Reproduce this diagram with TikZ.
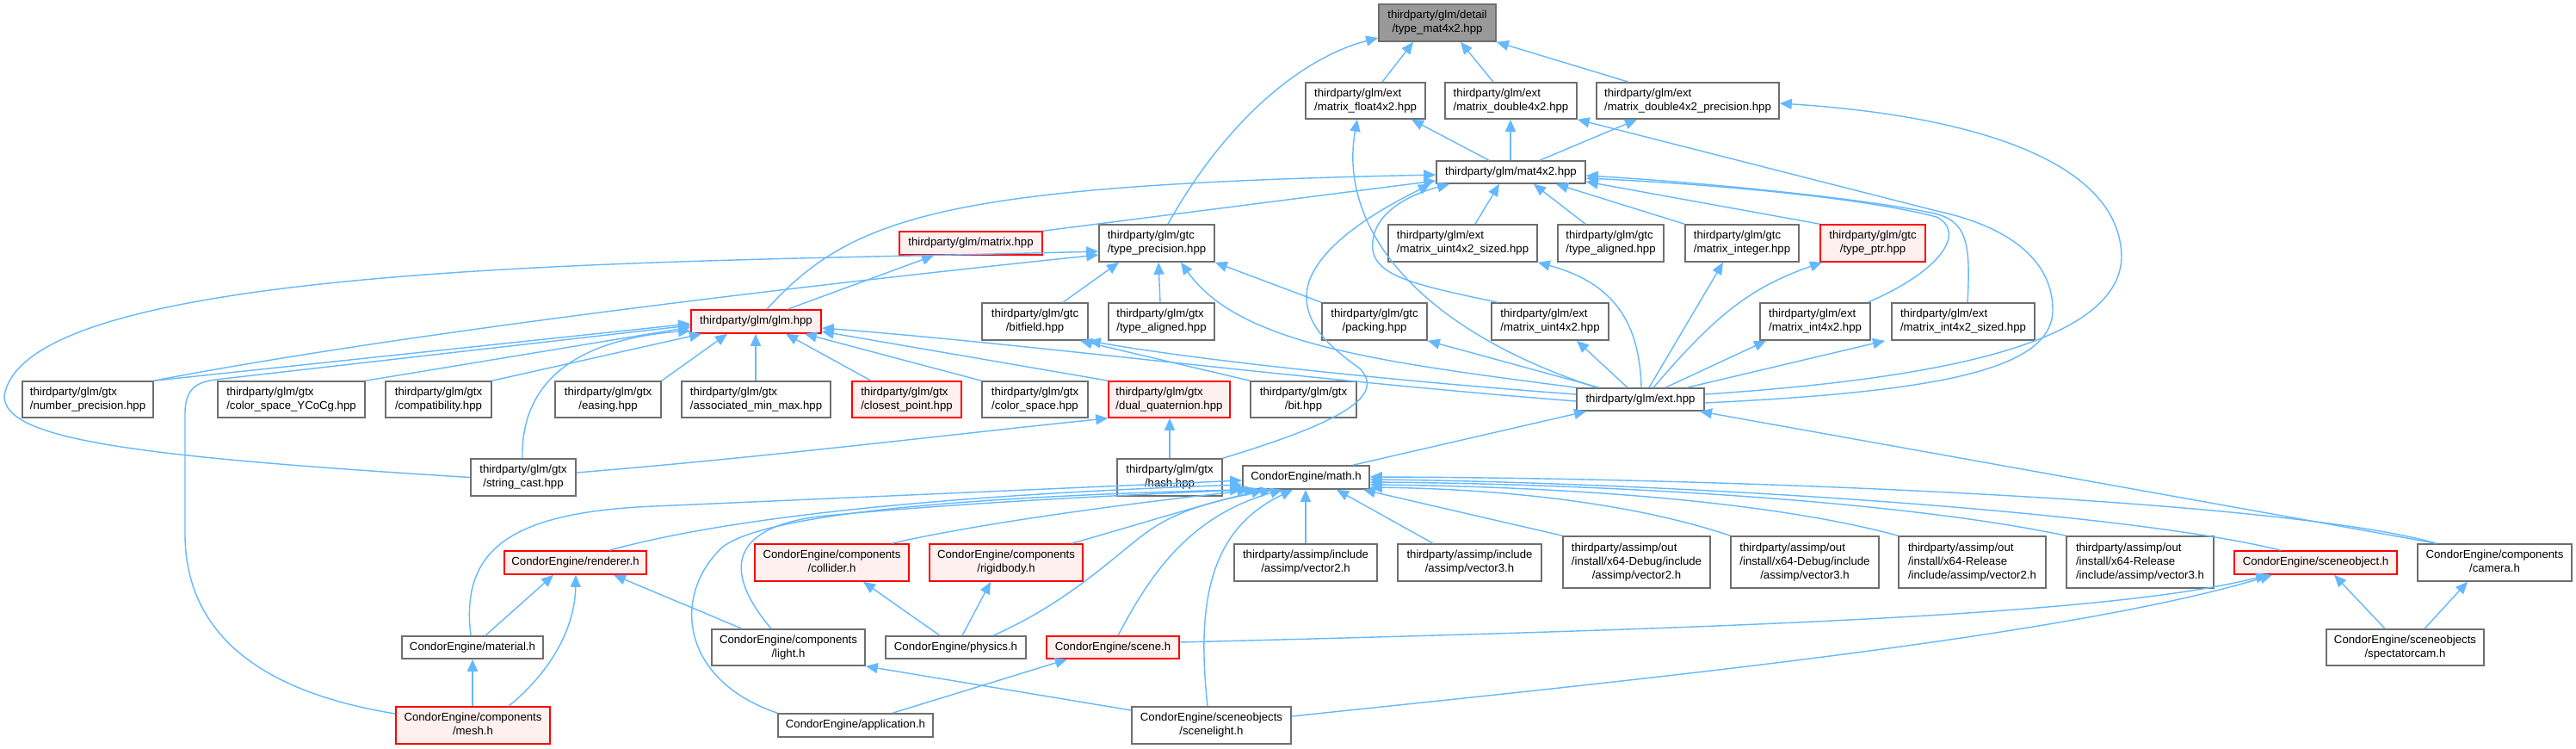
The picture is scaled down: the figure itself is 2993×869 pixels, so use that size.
\documentclass[tikz,border=0pt]{standalone}
\usepackage{fontspec}
\setmainfont{Liberation Sans}
\usetikzlibrary{arrows.meta}
\definecolor{edgec}{HTML}{63B8FF}
\definecolor{redfill}{HTML}{FFF0F0}
\definecolor{rootfill}{HTML}{999999}
\definecolor{bordc}{HTML}{6E6E6E}
\definecolor{redb}{HTML}{FF0000}
\newcommand\fsz{\fontsize{6.6}{8}\selectfont}
\newcommand\twoln[2]{\begin{tabular}{@{}l@{}}#1\\\multicolumn{1}{@{}c@{}}{#2}\end{tabular}}
\newcommand\threeln[3]{\begin{tabular}{@{}l@{}}#1\\#2\\\multicolumn{1}{@{}c@{}}{#3}\end{tabular}}
\begin{document}
\begin{tikzpicture}[x=0.5pt,y=-0.5pt,
  nbox/.style={draw=bordc, fill=white, line width=0.8pt, inner sep=0pt, font=\fsz, align=center},
  rbox/.style={nbox, draw=redb, fill=redfill},
  gbox/.style={nbox, fill=rootfill},
  lnk/.style={draw=edgec, line width=0.7pt, -{Triangle[length=7pt,width=6pt]}},
  ]
\fill[white] (0,0) rectangle (2993,869);
\useasboundingbox (0,0) rectangle (2993,869);
% ---------- nodes ----------
\node[gbox,minimum width=68pt,minimum height=21.5pt] (root) at (1670,26.5) {\twoln{thirdparty/glm/detail}{/type\_mat4x2.hpp}};
\node[nbox,minimum width=69.5pt,minimum height=21pt] (fl42) at (1586.5,117) {\twoln{thirdparty/glm/ext}{/matrix\_float4x2.hpp}};
\node[nbox,minimum width=76.5pt,minimum height=21pt] (db42) at (1755.5,117) {\twoln{thirdparty/glm/ext}{/matrix\_double4x2.hpp}};
\node[nbox,minimum width=106pt,minimum height=21pt] (dbp) at (1961,117) {\twoln{thirdparty/glm/ext}{/matrix\_double4x2\_precision.hpp}};
\node[nbox,minimum width=86.5pt,minimum height=13pt] (mat) at (1755.5,200) {thirdparty/glm/mat4x2.hpp};
\node[nbox,minimum width=86.5pt,minimum height=21.5pt] (u42s) at (1699.5,282.5) {\twoln{thirdparty/glm/ext}{/matrix\_uint4x2\_sized.hpp}};
\node[nbox,minimum width=61.5pt,minimum height=21.5pt] (tal) at (1871.5,282.5) {\twoln{thirdparty/glm/gtc}{/type\_aligned.hpp}};
\node[nbox,minimum width=66pt,minimum height=21.5pt] (mint) at (2024,282.5) {\twoln{thirdparty/glm/gtc}{/matrix\_integer.hpp}};
\node[rbox,minimum width=61pt,minimum height=21.5pt] (tptr) at (2176,282.5) {\twoln{thirdparty/glm/gtc}{/type\_ptr.hpp}};
\node[rbox,minimum width=83pt,minimum height=13.5pt] (mtx) at (1128,282.5) {thirdparty/glm/matrix.hpp};
\node[nbox,minimum width=67pt,minimum height=21.5pt] (tprec) at (1344,282.5) {\twoln{thirdparty/glm/gtc}{/type\_precision.hpp}};
\node[rbox,minimum width=75.5pt,minimum height=13.5pt] (glm) at (878.5,373.5) {thirdparty/glm/glm.hpp};
\node[nbox,minimum width=61.5pt,minimum height=21.5pt] (bitf) at (1202.5,373.5) {\twoln{thirdparty/glm/gtc}{/bitfield.hpp}};
\node[nbox,minimum width=61.5pt,minimum height=21.5pt] (talx) at (1349.5,373.5) {\twoln{thirdparty/glm/gtx}{/type\_aligned.hpp}};
\node[nbox,minimum width=61pt,minimum height=21.5pt] (pack) at (1597,373.5) {\twoln{thirdparty/glm/gtc}{/packing.hpp}};
\node[nbox,minimum width=68pt,minimum height=21.5pt] (u42) at (1801,373.5) {\twoln{thirdparty/glm/ext}{/matrix\_uint4x2.hpp}};
\node[nbox,minimum width=64pt,minimum height=21.5pt] (i42) at (2109,373.5) {\twoln{thirdparty/glm/ext}{/matrix\_int4x2.hpp}};
\node[nbox,minimum width=83pt,minimum height=21.5pt] (i42s) at (2281,373.5) {\twoln{thirdparty/glm/ext}{/matrix\_int4x2\_sized.hpp}};
\node[nbox,minimum width=76pt,minimum height=21pt] (nump) at (102,464) {\twoln{thirdparty/glm/gtx}{/number\_precision.hpp}};
\node[nbox,minimum width=85.5pt,minimum height=21pt] (ycocg) at (338.5,464) {\twoln{thirdparty/glm/gtx}{/color\_space\_YCoCg.hpp}};
\node[nbox,minimum width=61.5pt,minimum height=21pt] (compat) at (509.5,464) {\twoln{thirdparty/glm/gtx}{/compatibility.hpp}};
\node[nbox,minimum width=61.5pt,minimum height=21pt] (easing) at (706.5,464) {\twoln{thirdparty/glm/gtx}{/easing.hpp}};
\node[nbox,minimum width=86.5pt,minimum height=21pt] (assoc) at (878.5,464) {\twoln{thirdparty/glm/gtx}{/associated\_min\_max.hpp}};
\node[rbox,minimum width=63.5pt,minimum height=21pt] (closest) at (1053.5,464) {\twoln{thirdparty/glm/gtx}{/closest\_point.hpp}};
\node[nbox,minimum width=61.5pt,minimum height=21pt] (cspace) at (1202.5,464) {\twoln{thirdparty/glm/gtx}{/color\_space.hpp}};
\node[rbox,minimum width=70.5pt,minimum height=21pt] (dualq) at (1358.5,464) {\twoln{thirdparty/glm/gtx}{/dual\_quaternion.hpp}};
\node[nbox,minimum width=61.5pt,minimum height=21pt] (bit) at (1514.5,464) {\twoln{thirdparty/glm/gtx}{/bit.hpp}};
\node[nbox,minimum width=74pt,minimum height=13pt] (ext) at (1906,464) {thirdparty/glm/ext.hpp};
\node[nbox,minimum width=61pt,minimum height=21.5pt] (strc) at (608,554.5) {\twoln{thirdparty/glm/gtx}{/string\_cast.hpp}};
\node[nbox,minimum width=61pt,minimum height=21.5pt] (hash) at (1359,554.5) {\twoln{thirdparty/glm/gtx}{/hash.hpp}};
\node[nbox,minimum width=73.5pt,minimum height=13.5pt] (math) at (1517.5,554.5) {CondorEngine/math.h};
\node[rbox,minimum width=82.5pt,minimum height=13.5pt] (renderer) at (668.5,653.5) {CondorEngine/renderer.h};
\node[rbox,minimum width=89.5pt,minimum height=21.5pt] (collider) at (966.5,653.5) {\twoln{CondorEngine/components}{/collider.h}};
\node[rbox,minimum width=89pt,minimum height=21.5pt] (rigid) at (1169,653.5) {\twoln{CondorEngine/components}{/rigidbody.h}};
\node[nbox,minimum width=83pt,minimum height=21.5pt] (av2) at (1517,653.5) {\twoln{thirdparty/assimp/include}{/assimp/vector2.h}};
\node[nbox,minimum width=83.5pt,minimum height=21.5pt] (av3) at (1707.5,653.5) {\twoln{thirdparty/assimp/include}{/assimp/vector3.h}};
\node[nbox,minimum width=85.5pt,minimum height=30pt] (dv2) at (1901.5,653) {\threeln{thirdparty/assimp/out}{/install/x64-Debug/include}{/assimp/vector2.h}};
\node[nbox,minimum width=86pt,minimum height=30pt] (dv3) at (2097,653) {\threeln{thirdparty/assimp/out}{/install/x64-Debug/include}{/assimp/vector3.h}};
\node[nbox,minimum width=85.5pt,minimum height=30pt] (rv2) at (2291.5,653) {\threeln{thirdparty/assimp/out}{/install/x64-Release}{/include/assimp/vector2.h}};
\node[nbox,minimum width=85.5pt,minimum height=30pt] (rv3) at (2486.5,653) {\threeln{thirdparty/assimp/out}{/install/x64-Release}{/include/assimp/vector3.h}};
\node[rbox,minimum width=94.5pt,minimum height=13.5pt] (sobj) at (2690.5,653.5) {CondorEngine/sceneobject.h};
\node[nbox,minimum width=89.5pt,minimum height=21.5pt] (cam) at (2898.5,653.5) {\twoln{CondorEngine/components}{/camera.h}};
\node[nbox,minimum width=82pt,minimum height=13pt] (material) at (549,752) {CondorEngine/material.h};
\node[nbox,minimum width=89pt,minimum height=21pt] (light) at (916,752) {\twoln{CondorEngine/components}{/light.h}};
\node[nbox,minimum width=81.5pt,minimum height=13pt] (physics) at (1110.5,752) {CondorEngine/physics.h};
\node[rbox,minimum width=77pt,minimum height=13pt] (scene) at (1293,752) {CondorEngine/scene.h};
\node[nbox,minimum width=91.5pt,minimum height=21pt] (spect) at (2794.5,752) {\twoln{CondorEngine/sceneobjects}{/spectatorcam.h}};
\node[rbox,minimum width=89.5pt,minimum height=21.5pt] (mesh) at (549.5,842.5) {\twoln{CondorEngine/components}{/mesh.h}};
\node[nbox,minimum width=90pt,minimum height=13.5pt] (app) at (994,842.5) {CondorEngine/application.h};
\node[nbox,minimum width=92.5pt,minimum height=21.5pt] (slight) at (1407.5,842.5) {\twoln{CondorEngine/sceneobjects}{/scenelight.h}};
% ---------- edges ----------
\draw[lnk] (fl42.north-|1606,0) -- (root.south-|1642,0);
\draw[lnk] (db42.north-|1735,0) -- (root.south-|1697,0);
\draw[lnk] (dbp.north-|1892,0) -- (root.south east);
\draw[lnk] (tprec.north-|1357,0) .. controls (1430,130) and (1520,65) .. (root.west|-0,44);
\draw[lnk] (mat.north-|1730,0) -- (fl42.south-|1640,0);
\draw[lnk] (mat.north-|1755,0) -- (db42.south-|1755,0);
\draw[lnk] (mat.north-|1789,0) -- (dbp.south-|1902,0);
\draw[lnk] (ext.north-|1855,0) .. controls (1640,380) and (1555,260) .. (fl42.south-|1577,0);
\draw[lnk] (u42.north-|1740,0) .. controls (1640,330) and (1590,320) .. (1595,280) .. controls (1598,250) and (1630,228) .. (mat.south-|1684,0);
\draw[lnk] (hash.north east) .. controls (1560,490) and (1610,460) .. (1580,428) .. controls (1540,400) and (1510,370) .. (1520,330) .. controls (1535,280) and (1610,240) .. (mat.south-|1662,0);
\draw[lnk] (glm.north-|891,0) .. controls (990,250) and (1100,215) .. (mat.west|-0,203);
\draw[lnk] (mtx.north east) -- (mat.west|-0,210);
\draw[lnk] (u42s.north-|1714,0) -- (mat.south-|1742,0);
\draw[lnk] (tal.north-|1842,0) -- (mat.south-|1782,0);
\draw[lnk] (mint.north west) -- (mat.south-|1808,0);
\draw[lnk] (tptr.north west) -- (mat.east|-0,211);
\draw[lnk] (i42.north-|2170,0) .. controls (2255,315) and (2285,270) .. (2250,252) .. controls (2150,226) and (1950,212) .. (mat.east|-0,207);
\draw[lnk] (i42s.north-|2286,0) .. controls (2290,280) and (2285,255) .. (2243,247) .. controls (2150,228) and (1950,210) .. (mat.east|-0,204);
\draw[lnk] (ext.east|-0,468) .. controls (2250,455) and (2385,430) .. (2385,360) .. controls (2385,300) and (2330,262) .. (2250,245) -- (db42.south east);
\draw[lnk] (ext.east|-0,458) .. controls (2250,440) and (2460,400) .. (2465,300) .. controls (2465,190) and (2300,135) .. (dbp.east|-0,120);
\draw[lnk] (ext.north-|1907,0) .. controls (1905,380) and (1880,330) .. (u42s.south east);
\draw[lnk] (ext.north-|1891,0) -- (u42.south-|1832,0);
\draw[lnk] (ext.north-|1916,0) -- (mint.south-|2002,0);
\draw[lnk] (ext.north-|1921,0) .. controls (1990,370) and (2030,335) .. (tptr.south-|2117,0);
\draw[lnk] (ext.north-|1858,0) -- (pack.south east);
\draw[lnk] (ext.north-|1935,0) -- (i42.south-|2052,0);
\draw[lnk] (ext.north-|1960,0) -- (i42s.south-|2190,0);
\draw[lnk] (ext.north west) .. controls (1600,420) and (1440,400) .. (tprec.south-|1372,0);
\draw[lnk] (pack.north west) -- (tprec.south east);
\draw[lnk] (bitf.north-|1235,0) -- (tprec.south-|1300,0);
\draw[lnk] (talx.north-|1348,0) -- (tprec.south-|1346,0);
\draw[lnk] (ext.west|-0,458) .. controls (1650,445) and (1400,420) .. (bitf.south east);
\draw[lnk] (ext.west|-0,466) .. controls (1500,440) and (1200,400) .. (glm.east|-0,381);
\draw[lnk] (bit.north west) -- (bitf.south-|1255,0);
% into glm
\draw[lnk] (nump.north east) -- (glm.west|-0,376);
\draw[lnk] (ycocg.north east) -- (glm.west|-0,380);
\draw[lnk] (compat.north east) -- (glm.south-|815,0);
\draw[lnk] (easing.north east) -- (glm.south-|845,0);
\draw[lnk] (assoc.north-|878,0) -- (glm.south-|878,0);
\draw[lnk] (closest.north-|1012,0) -- (glm.south-|913,0);
\draw[lnk] (cspace.north west) -- (glm.south-|935,0);
\draw[lnk] (dualq.north west) -- (glm.east|-0,385);
\draw[lnk] (strc.north-|607,0) .. controls (605,450) and (660,395) .. (glm.west|-0,384);
\draw[lnk] (mesh.west|-0,829) .. controls (280,800) and (215,720) .. (215,620) -- (215,480) .. controls (215,452) and (228,444) .. (250,441) -- (glm.west|-0,378);
\draw[lnk] (glm.north-|915,0) -- (mtx.south-|1085,0);
\draw[lnk] (nump.north east) .. controls (450,390) and (900,335) .. (tprec.west|-0,296);
\draw[lnk] (strc.west) .. controls (150,530) and (5,510) .. (5,460) .. controls (30,300) and (800,305) .. (tprec.west|-0,292);
\draw[lnk] (strc.east|-0,549) .. controls (900,530) and (1100,505) .. (dualq.south west);
\draw[lnk] (hash.north-|1359,0) -- (dualq.south-|1359,0);
\draw[lnk] (math.north-|1572,0) -- (ext.south-|1843,0);
\draw[lnk] (cam.north-|2831,0) -- (ext.south-|1975,0);
% into math
\draw[lnk] (material.north-|547,0) .. controls (535,640) and (590,595) .. (760,588) -- (math.west|-0,558);
\draw[lnk] (renderer.north-|708,0) .. controls (850,600) and (1100,575) .. (math.west|-0,563);
\draw[lnk] (app.north west) .. controls (790,790) and (780,690) .. (840,635) .. controls (900,590) and (1200,575) .. (math.south west);
\draw[lnk] (light.north-|896,0) .. controls (845,670) and (840,615) .. (950,600) .. controls (1100,585) and (1300,575) .. (math.south-|1452,0);
\draw[lnk] (collider.north-|1036,0) .. controls (1150,605) and (1350,580) .. (math.south-|1460,0);
\draw[lnk] (rigid.north-|1245,0) .. controls (1320,610) and (1400,585) .. (math.south-|1468,0);
\draw[lnk] (physics.north-|1154,0) .. controls (1240,700) and (1290,650) .. (1330,620) .. controls (1370,590) and (1420,580) .. (math.south-|1478,0);
\draw[lnk] (scene.north-|1299,0) .. controls (1335,670) and (1380,600) .. (math.south-|1490,0);
\draw[lnk] (slight.north-|1403,0) .. controls (1390,700) and (1405,615) .. (math.south-|1502,0);
\draw[lnk] (av2.north-|1517,0) -- (math.south-|1517,0);
\draw[lnk] (av3.north-|1665,0) -- (math.south-|1553,0);
\draw[lnk] (dv2.north west) -- (math.south-|1584,0);
\draw[lnk] (dv3.north west) .. controls (1900,585) and (1750,568) .. (math.east|-0,566);
\draw[lnk] (rv2.north west) .. controls (2050,580) and (1800,565) .. (math.east|-0,563);
\draw[lnk] (rv3.north west) .. controls (2200,580) and (1850,562) .. (math.east|-0,560);
\draw[lnk] (sobj.north-|2650,0) .. controls (2450,590) and (1900,560) .. (math.east|-0,557);
\draw[lnk] (cam.north-|2831,0) .. controls (2650,580) and (2000,555) .. (math.east|-0,554);
% lower part
\draw[lnk] (material.north-|564,0) -- (renderer.south-|643,0);
\draw[lnk] (mesh.north-|591,0) .. controls (640,780) and (668,730) .. (renderer.south-|669,0);
\draw[lnk] (mesh.north-|549,0) -- (material.south-|549,0);
\draw[lnk] (light.north-|862,0) -- (renderer.south-|713,0);
\draw[lnk] (physics.north-|1092,0) -- (collider.south-|1003,0);
\draw[lnk] (physics.north-|1118,0) -- (rigid.south-|1151,0);
\draw[lnk] (slight.west|-0,825) -- (light.south east);
\draw[lnk] (app.north-|1037,0) -- (scene.south-|1240,0);
\draw[lnk] (scene.east|-0,746) .. controls (2000,730) and (2450,715) .. (sobj.south-|2635,0);
\draw[lnk] (slight.east|-0,832) .. controls (1900,790) and (2400,740) .. (sobj.south-|2640,0);
\draw[lnk] (spect.north-|2771,0) -- (sobj.south-|2712,0);
\draw[lnk] (spect.north-|2817,0) -- (cam.south-|2867,0);
\end{tikzpicture}
\end{document}
